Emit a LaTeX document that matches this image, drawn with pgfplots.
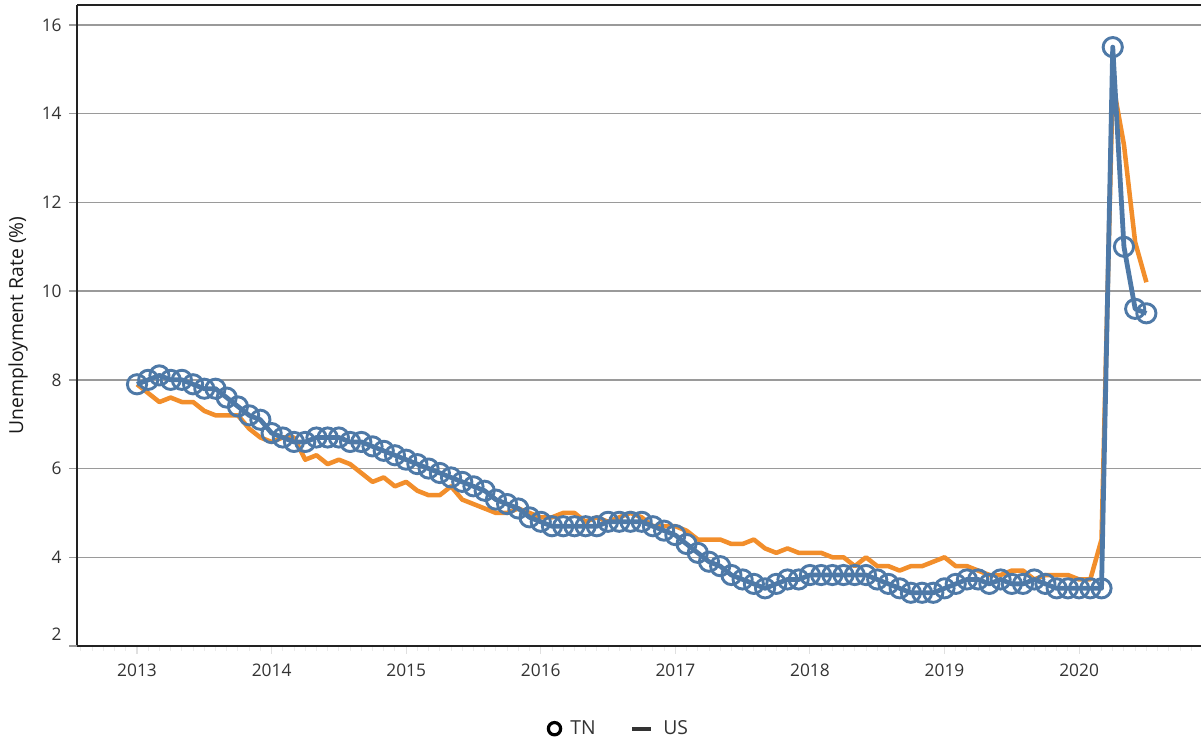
\documentclass[border=0pt]{standalone}
\usepackage{fontspec}
\setmainfont{Open Sans}
\usepackage{pgfplots}
\pgfplotsset{compat=1.18}
\usepackage{pgfplotstable}
\definecolor{tnblue}{HTML}{4E79A7}
\definecolor{usorange}{HTML}{F28E2B}
\definecolor{gridgray}{HTML}{9A9A9A}
\definecolor{axisdark}{HTML}{222222}
\definecolor{labeldark}{HTML}{333333}

% t = months since Jan 2013
\pgfplotstableread{
t tn us
0 7.9 7.9
1 8.0 7.7
2 8.1 7.5
3 8.0 7.6
4 8.0 7.5
5 7.9 7.5
6 7.8 7.3
7 7.8 7.2
8 7.6 7.2
9 7.4 7.2
10 7.2 6.9
11 7.1 6.7
12 6.8 6.6
13 6.7 6.7
14 6.6 6.7
15 6.6 6.2
16 6.7 6.3
17 6.7 6.1
18 6.7 6.2
19 6.6 6.1
20 6.6 5.9
21 6.5 5.7
22 6.4 5.8
23 6.3 5.6
24 6.2 5.7
25 6.1 5.5
26 6.0 5.4
27 5.9 5.4
28 5.8 5.6
29 5.7 5.3
30 5.6 5.2
31 5.5 5.1
32 5.3 5.0
33 5.2 5.0
34 5.1 5.1
35 4.9 5.0
36 4.8 4.9
37 4.7 4.9
38 4.7 5.0
39 4.7 5.0
40 4.7 4.8
41 4.7 4.9
42 4.8 4.8
43 4.8 4.9
44 4.8 5.0
45 4.8 4.9
46 4.7 4.7
47 4.6 4.7
48 4.5 4.7
49 4.3 4.6
50 4.1 4.4
51 3.9 4.4
52 3.8 4.4
53 3.6 4.3
54 3.5 4.3
55 3.4 4.4
56 3.3 4.2
57 3.4 4.1
58 3.5 4.2
59 3.5 4.1
60 3.6 4.1
61 3.6 4.1
62 3.6 4.0
63 3.6 4.0
64 3.6 3.8
65 3.6 4.0
66 3.5 3.8
67 3.4 3.8
68 3.3 3.7
69 3.2 3.8
70 3.2 3.8
71 3.2 3.9
72 3.3 4.0
73 3.4 3.8
74 3.5 3.8
75 3.5 3.7
76 3.4 3.6
77 3.5 3.6
78 3.4 3.7
79 3.4 3.7
80 3.5 3.5
81 3.4 3.6
82 3.3 3.6
83 3.3 3.6
84 3.3 3.5
85 3.3 3.5
86 3.3 4.4
87 15.5 14.7
88 11.0 13.3
89 9.6 11.1
90 9.5 10.2
}\data

\begin{document}
\begin{tikzpicture}
\path[use as bounding box] (-57.75pt,-72pt) rectangle (843pt,484.5pt);
\begin{axis}[
  scale only axis,
  width=843pt, height=480.75pt,
  at={(0pt,0pt)}, anchor=south west,
  xmin=-5.35, xmax=94.87,
  ymin=2, ymax=16.45,
  axis x line*=box, axis y line*=left,
  axis line style={-, axisdark, line width=2.2pt},
  xtick pos=lower, ytick pos=left,
  xtick={0,12,...,84},
  xticklabels={2013,2014,2015,2016,2017,2018,2019,2020},
  minor xtick={-5,-4,...,94},
  ytick={4,6,...,16},
  extra y ticks={2},
  extra y tick style={ymajorgrids=false, yticklabel style={yshift=9pt}},
  tick align=outside,
  major tick length=6pt,
  minor tick length=3.5pt,
  xtick style={black!12, line width=0.8pt},
  minor x tick style={black!8, line width=0.7pt},
  ytick style={gridgray, line width=1pt},
  ymajorgrids,
  grid style={gridgray, line width=1.1pt},
  /pgf/number format/assume math mode=true,
  ticklabel style={font=\fontsize{13}{15}\selectfont, text=labeldark},
  xticklabel style={yshift=-4pt},
  yticklabel style={xshift=-2pt},
  ylabel={Unemployment Rate (\%)},
  ylabel style={at={(axis description cs:-0.0525,0.5)}, anchor=center, font=\fontsize{14.5}{16}\selectfont, text=black!90},
  legend style={at={(axis description cs:0.482,-0.129)}, anchor=center, draw=none, fill=none,
    legend columns=2, font=\fontsize{14.5}{16}\selectfont, text=labeldark,
    /tikz/every even column/.append style={column sep=24pt}},
  legend cell align=left,
  clip=false,
]
\addlegendimage{legend image code/.code={\draw[black, line width=2.4pt] (0.2cm,0cm) circle (4.6pt); \path[draw=none, fill=none] (0cm,0cm) rectangle (0.55cm,0.01cm);}}
\addlegendentry{TN}
\addlegendimage{legend image code/.code={\draw[black!80, line width=2.8pt] (0.05cm,0cm) -- (0.55cm,0cm); \path[draw=none, fill=none] (0cm,0cm) rectangle (0.8cm,0.01cm);}}
\addlegendentry{US}
\addplot[usorange, line width=3.4pt, line join=round, no markers, forget plot] table[x=t, y=us]{\data};
\addplot[tnblue, line width=3.6pt, line join=round, mark=o, mark size=7.2pt,
  mark options={solid, line width=2.2pt}, forget plot] table[x=t, y=tn]{\data};
\end{axis}
\end{tikzpicture}
\end{document}
